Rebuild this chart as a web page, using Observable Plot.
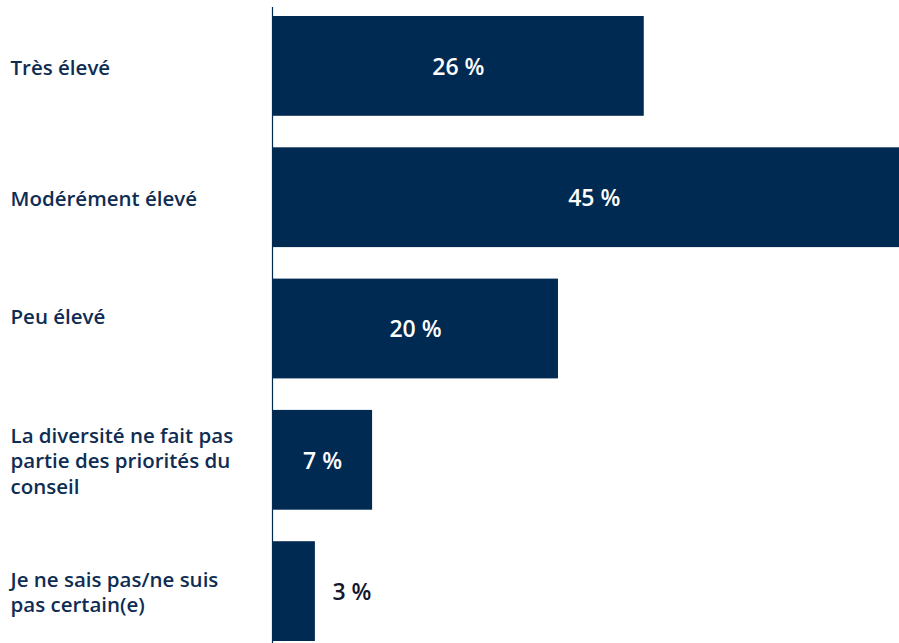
<!DOCTYPE html>
<html>
<head>
<meta charset="utf-8">
<script src="https://cdn.jsdelivr.net/npm/d3@7"></script>
<script src="https://cdn.jsdelivr.net/npm/@observablehq/plot@0.6"></script>
<style>
  html, body { margin: 0; padding: 0; background: #fff; overflow: hidden; }
  #chart { width: 899px; height: 643px; }
</style>
</head>
<body>
<div id="chart"></div>
<script>
const categories = [
  "Très élevé",
  "Modérément élevé",
  "Peu élevé",
  "La diversité ne fait pas partie des priorités du conseil",
  "Je ne sais pas/ne suis pas certain(e)"
];
const categoryLabels = [
  "Très élevé",
  "Modérément élevé",
  "Peu élevé\n",
  "La diversité ne fait pas\npartie des priorités du\nconseil",
  "Je ne sais pas/ne suis\npas certain(e)"
];
const values = [26, 45, 20, 7, 3];
const valueLabels = ["26 %", "45 %", "20 %", "7 %", "3 %"];

const data = categories.map((c, i) => ({
  category: c,
  label: categoryLabels[i],
  value: values[i],
  valueLabel: valueLabels[i]
}));

const navy = "#012a52";
const font = "'Open Sans', Lato, sans-serif";

const inside = data.filter(d => d.value >= 5);
const outside = data.filter(d => d.value < 5);

const chart = Plot.plot({
  width: 899,
  height: 643,
  marginLeft: 272,
  marginRight: 0,
  marginTop: 7,
  marginBottom: 0,
  style: { fontFamily: font, background: "#fff", overflow: "hidden" },
  x: { domain: [0, 43.85], axis: null },
  y: { domain: categories, range: [16, 641], paddingInner: 0.24, paddingOuter: 0, round: false, axis: null },
  marks: [
    Plot.barX(data, { y: "category", x: "value", fill: navy, clip: true }),
    Plot.ruleX([0], { stroke: navy, strokeWidth: 1.2 }),
    Plot.text(inside, {
      y: "category",
      x: d => d.value / 2,
      text: "valueLabel",
      fill: "#ffffff",
      fontSize: 23,
      fontWeight: 600,
      dy: 1
    }),
    Plot.text(outside, {
      y: "category",
      x: "value",
      text: "valueLabel",
      fill: "#16162c",
      fontSize: 23,
      fontWeight: 600,
      textAnchor: "start",
      dx: 17,
      dy: 1
    }),
    Plot.text(data, {
      y: "category",
      frameAnchor: "left",
      text: "label",
      textAnchor: "start",
      dx: -262,
      fill: "#0f2d52",
      fontSize: 20.5,
      fontWeight: 600,
      lineHeight: 1.24
    })
  ]
});
document.getElementById("chart").appendChild(chart);
</script>
</body>
</html>
